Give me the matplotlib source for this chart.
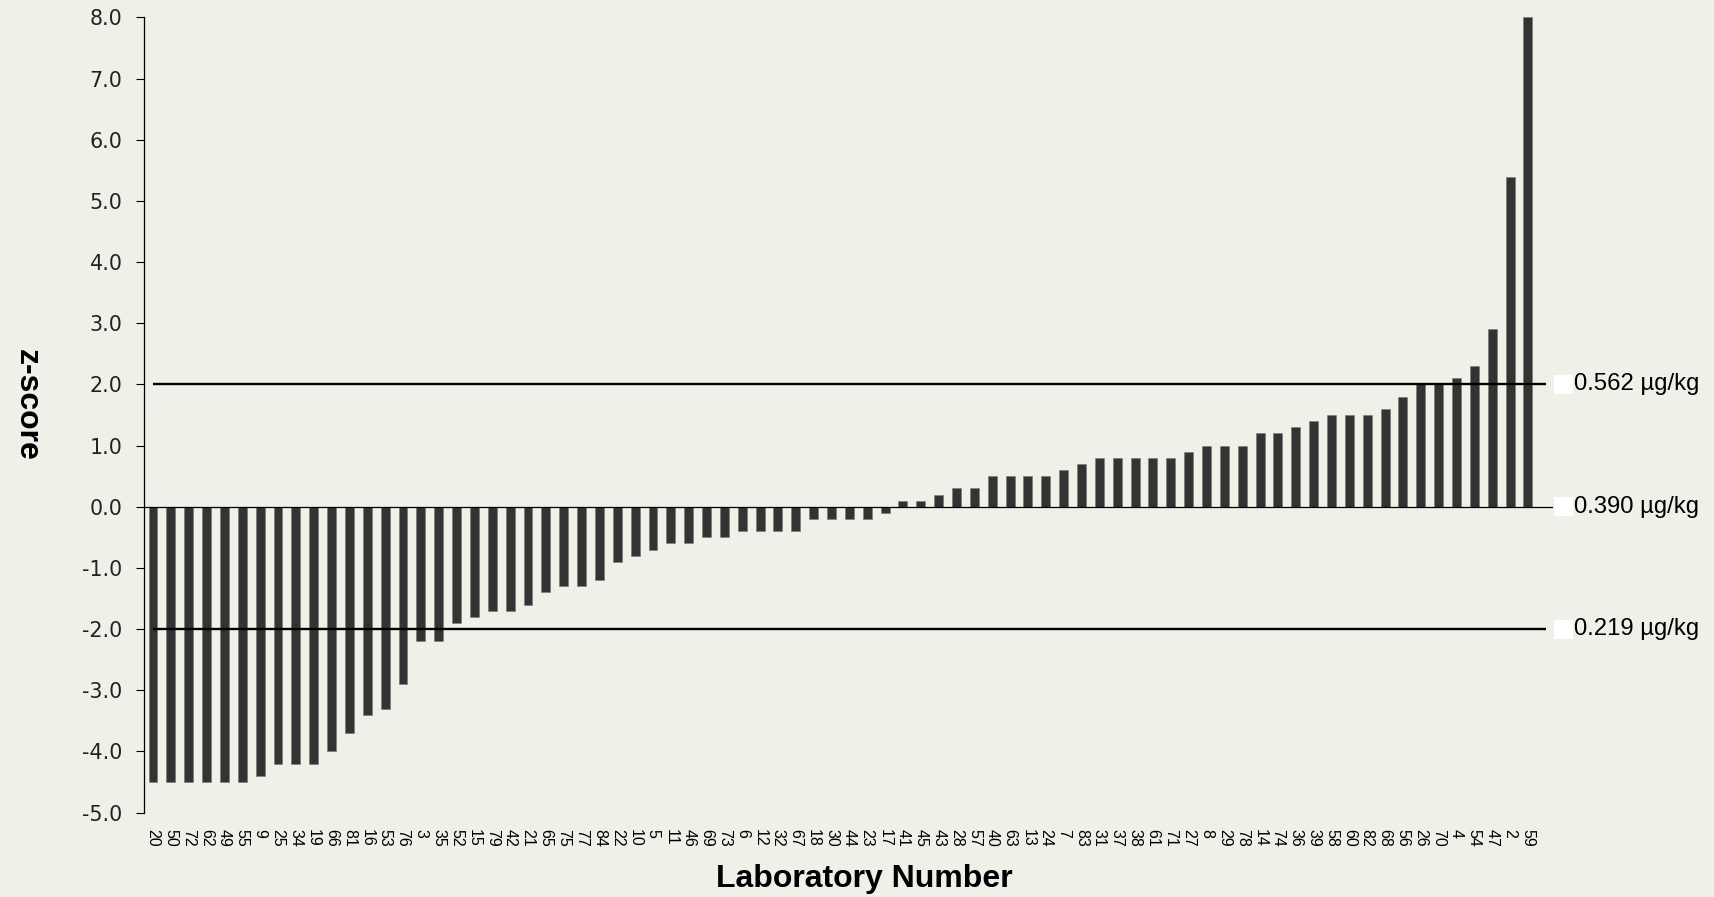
import matplotlib
matplotlib.use('Agg')
import matplotlib.pyplot as plt
from matplotlib.patches import Rectangle
import numpy as np

labs = ['20', '50', '72', '62', '49', '55', '9', '25', '34', '19',
        '66', '81', '16', '53', '76', '3', '35', '52', '15', '79',
        '42', '21', '65', '75', '77', '84', '22', '10', '5', '11',
        '46', '69', '73', '6', '12', '32', '67', '18', '30', '44',
        '23', '17', '41', '45', '43', '28', '57', '40', '63', '13',
        '24', '7', '83', '31', '37', '38', '61', '71', '27', '8',
        '29', '78', '14', '74', '36', '39', '58', '60', '82', '68',
        '56', '26', '70', '4', '54', '47', '2', '59']
zscore = [-4.5, -4.5, -4.5, -4.5, -4.5, -4.5, -4.4, -4.2, -4.2, -4.2,
          -4.0, -3.7, -3.4, -3.3, -2.9, -2.2, -2.2, -1.9, -1.8, -1.7,
          -1.7, -1.6, -1.4, -1.3, -1.3, -1.2, -0.9, -0.8, -0.7, -0.6,
          -0.6, -0.5, -0.5, -0.4, -0.4, -0.4, -0.4, -0.2, -0.2, -0.2,
          -0.2, -0.1, 0.1, 0.1, 0.2, 0.3, 0.3, 0.5, 0.5, 0.5,
          0.5, 0.6, 0.7, 0.8, 0.8, 0.8, 0.8, 0.8, 0.9, 1.0,
          1.0, 1.0, 1.2, 1.2, 1.3, 1.4, 1.5, 1.5, 1.5, 1.6,
          1.8, 2.0, 2.0, 2.1, 2.3, 2.9, 5.4, 8.0]

limits = [2, 0, -2]
limit_txt = ['0.562 µg/kg', '0.390 µg/kg', '0.219 µg/kg']

plt.rcParams['axes.unicode_minus'] = False
bg = '#f0f0e8'

fig = plt.figure(figsize=(17.15, 8.97), dpi=100, facecolor=bg)
ax = fig.add_axes([0.084, 0.0941, 0.8215, 0.8864], facecolor=bg)

x = np.arange(len(labs))
ax.bar(x, zscore, width=0.5, color='#333333', edgecolor='#777777', linewidth=0.4, zorder=2)

ax.axhline(0, color='black', lw=0.9, zorder=3)
ax.hlines([limits[0], limits[2]], 0, len(labs), color='black', lw=1.7, zorder=4)

ax.set_xlim(-0.5, 78.4)
ax.set_ylim(-5, 8)
ax.set_yticks(np.arange(-5, 9, 1))
ax.set_yticklabels([f'{v:.1f}' for v in np.arange(-5, 9, 1)], fontsize=14.9, family='DejaVu Sans', color='#222222')
ax.tick_params(axis='y', length=6, width=0.8, pad=9.5, direction='out')

ax.set_xticks(x)
ax.set_xticklabels(labs, rotation=-90, fontsize=11.5, family='Liberation Sans', va='top', ha='center')
ax.tick_params(axis='x', length=0, pad=12)

for s in ['top', 'right', 'bottom']:
    ax.spines[s].set_visible(False)
ax.spines['left'].set_linewidth(0.9)

# limit labels at right with white keys
for v, t in zip(limits, limit_txt):
    ax.add_patch(Rectangle((78.45, v - 0.155), 1.06, 0.31, facecolor='white', edgecolor='none',
                           clip_on=False, zorder=5))
    ax.text(79.6, v, t, fontsize=17.2, family='Liberation Sans', va='center', ha='left',
            clip_on=False)

fig.text(864 / 1715, 1 - 879 / 897, 'Laboratory Number', fontsize=23, fontweight='bold',
         family='Liberation Sans', ha='center', va='center')
fig.text(27 / 1715, 1 - 405 / 897, 'z-score', fontsize=23, fontweight='bold',
         family='Liberation Sans', ha='center', va='center', rotation=-90)

fig.savefig('out.png', dpi=100, facecolor=bg)
